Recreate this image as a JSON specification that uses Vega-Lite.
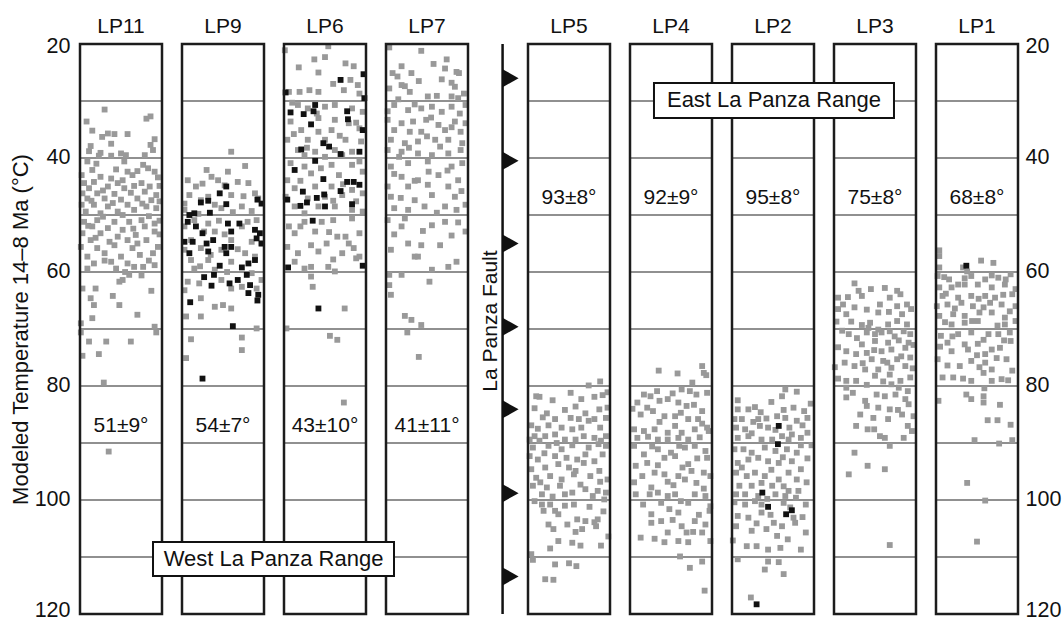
{
"$schema":"https://vega.github.io/schema/vega-lite/v6.json",
"width":937,"height":570,
"autosize":{"type":"none"},
"padding":{"left":80,"top":44,"right":46,"bottom":7},
"background":"white",
"config":{"view":{"stroke":null},"font":"Liberation Sans",
 "axis":{"domain":false,"ticks":false,"grid":false,"labelFontSize":21.5,"labelColor":"#111","labelFont":"Liberation Sans","labelFlush":false,"labelOverlap":false,"titleFontSize":22,"titleFontWeight":"normal","titleColor":"#111","titleFont":"Liberation Sans"},
 "axisX":{"labelAngle":0,"labelFontSize":21,"labelPadding":8},
 "axisY":{"labelOffset":-1,"labelFlush":true,"labelFlushOffset":8}},
"datasets":{
"panels":[
{"p":"LP11","v":"51±9°","g":[30,40,50,60,70,80,90,100,110]},
{"p":"LP9","v":"54±7°","g":[30,40,50,60,70,80,90,100,110]},
{"p":"LP6","v":"43±10°","g":[30,40,50,60,70,80,90,100,110]},
{"p":"LP7","v":"41±11°","g":[30,40,50,60,70,80,90,100,110]},
{"p":"LP5","v":"93±8°","g":[30,40,50,60,70,80,90,100,110]},
{"p":"LP4","v":"92±9°","g":[30,40,50,60,70,80,90,100,110]},
{"p":"LP2","v":"95±8°","g":[30,40,50,60,70,80,90,100,110]},
{"p":"LP3","v":"75±8°","g":[30,40,50,60,70,80,90,100,110]},
{"p":"LP1","v":"68±8°","g":[30,40,50,60,70,80,90,100,110]}
],
"thrusts":[{"t":26.0},{"t":40.5},{"t":55.0},{"t":69.6},{"t":84.1},{"t":98.8},{"t":113.4}],
"pts":[
{"p":"LP11","j":30,"t":31.5},{"p":"LP11","j":8,"t":33.6},{"p":"LP11","j":81,"t":33.1},{"p":"LP11","j":86,"t":32.7},{"p":"LP11","j":15,"t":35.2},{"p":"LP11","j":34,"t":35.7},{"p":"LP11","j":42,"t":35.8},{"p":"LP11","j":58,"t":35.8},{"p":"LP11","j":27,"t":36.3},{"p":"LP11","j":91,"t":36.7},{"p":"LP11","j":38,"t":37.5},{"p":"LP11","j":13,"t":37.9},{"p":"LP11","j":86,"t":37.7},{"p":"LP11","j":11,"t":38.8},{"p":"LP11","j":25,"t":39.1},{"p":"LP11","j":50,"t":39.2},{"p":"LP11","j":56,"t":39.5},{"p":"LP11","j":89,"t":38.6},{"p":"LP11","j":79,"t":39.5},{"p":"LP11","j":23,"t":39.6},{"p":"LP11","j":38,"t":39.6},
{"p":"LP11","j":9,"t":40.6},{"p":"LP11","j":77,"t":41.2},{"p":"LP11","j":83,"t":41.8},{"p":"LP11","j":15,"t":42.1},{"p":"LP11","j":54,"t":40.6},{"p":"LP11","j":58,"t":42.4},{"p":"LP11","j":91,"t":42.4},{"p":"LP11","j":25,"t":43.3},{"p":"LP11","j":38,"t":43.6},{"p":"LP11","j":64,"t":43.0},{"p":"LP11","j":95,"t":43.4},{"p":"LP11","j":5,"t":44.4},{"p":"LP11","j":17,"t":44.2},{"p":"LP11","j":46,"t":44.4},{"p":"LP11","j":75,"t":44.4},{"p":"LP11","j":85,"t":45.0},{"p":"LP11","j":34,"t":45.0},{"p":"LP11","j":11,"t":45.3},{"p":"LP11","j":54,"t":45.3},{"p":"LP11","j":3,"t":46.2},{"p":"LP11","j":21,"t":46.2},{"p":"LP11","j":42,"t":46.3},{"p":"LP11","j":62,"t":46.1},{"p":"LP11","j":79,"t":45.9},{"p":"LP11","j":93,"t":46.5},{"p":"LP11","j":9,"t":47.1},{"p":"LP11","j":30,"t":47.1},{"p":"LP11","j":50,"t":47.3},{"p":"LP11","j":70,"t":47.1},{"p":"LP11","j":87,"t":47.4},{"p":"LP11","j":2,"t":48.2},{"p":"LP11","j":17,"t":48.2},{"p":"LP11","j":34,"t":48.5},{"p":"LP11","j":58,"t":48.2},{"p":"LP11","j":81,"t":48.5},{"p":"LP11","j":93,"t":48.8},{"p":"LP11","j":7,"t":49.4},{"p":"LP11","j":46,"t":49.4},{"p":"LP11","j":66,"t":49.1},{"p":"LP11","j":25,"t":49.7},
{"p":"LP11","j":5,"t":51.2},{"p":"LP11","j":21,"t":50.9},{"p":"LP11","j":42,"t":51.2},{"p":"LP11","j":60,"t":51.2},{"p":"LP11","j":75,"t":50.9},{"p":"LP11","j":91,"t":51.5},{"p":"LP11","j":15,"t":52.0},{"p":"LP11","j":34,"t":52.3},{"p":"LP11","j":52,"t":52.6},{"p":"LP11","j":79,"t":52.0},{"p":"LP11","j":3,"t":53.2},{"p":"LP11","j":25,"t":53.2},{"p":"LP11","j":46,"t":53.8},{"p":"LP11","j":68,"t":53.5},{"p":"LP11","j":91,"t":52.9},{"p":"LP11","j":13,"t":54.4},{"p":"LP11","j":36,"t":54.7},{"p":"LP11","j":58,"t":54.4},{"p":"LP11","j":81,"t":54.4},{"p":"LP11","j":1,"t":55.6},{"p":"LP11","j":21,"t":55.8},{"p":"LP11","j":42,"t":55.3},{"p":"LP11","j":64,"t":55.8},{"p":"LP11","j":95,"t":55.6},{"p":"LP11","j":9,"t":57.3},{"p":"LP11","j":30,"t":56.7},{"p":"LP11","j":50,"t":57.3},{"p":"LP11","j":73,"t":57.0},{"p":"LP11","j":89,"t":56.7},{"p":"LP11","j":17,"t":58.5},{"p":"LP11","j":38,"t":58.2},{"p":"LP11","j":58,"t":58.5},{"p":"LP11","j":77,"t":59.1},{"p":"LP11","j":9,"t":59.4},{"p":"LP11","j":44,"t":59.4},{"p":"LP11","j":66,"t":59.1},{"p":"LP11","j":91,"t":58.8},
{"p":"LP11","j":52,"t":61.4},{"p":"LP11","j":60,"t":60.5},{"p":"LP11","j":75,"t":60.6},{"p":"LP11","j":3,"t":62.9},{"p":"LP11","j":19,"t":62.9},{"p":"LP11","j":48,"t":61.7},{"p":"LP11","j":87,"t":63.3},{"p":"LP11","j":13,"t":64.6},{"p":"LP11","j":40,"t":64.2},{"p":"LP11","j":17,"t":65.8},{"p":"LP11","j":48,"t":65.8},{"p":"LP11","j":70,"t":67.5},{"p":"LP11","j":15,"t":68.1},{"p":"LP11","j":1,"t":69.0},{"p":"LP11","j":91,"t":69.6},{"p":"LP11","j":93,"t":70.6},{"p":"LP11","j":1,"t":70.6},{"p":"LP11","j":11,"t":72.2},{"p":"LP11","j":32,"t":72.2},{"p":"LP11","j":62,"t":72.2},{"p":"LP11","j":23,"t":74.4},{"p":"LP11","j":3,"t":74.7},{"p":"LP11","j":29,"t":79.4},{"p":"LP11","j":35,"t":91.5},
{"p":"LP11","j":20,"t":41.0},{"p":"LP11","j":44,"t":42.0},{"p":"LP11","j":70,"t":42.3},{"p":"LP11","j":2,"t":43.0},{"p":"LP11","j":52,"t":43.9},{"p":"LP11","j":97,"t":44.9},{"p":"LP11","j":28,"t":45.7},{"p":"LP11","j":66,"t":44.9},{"p":"LP11","j":14,"t":47.5},{"p":"LP11","j":40,"t":47.9},{"p":"LP11","j":76,"t":48.0},{"p":"LP11","j":97,"t":47.6},{"p":"LP11","j":28,"t":50.3},{"p":"LP11","j":52,"t":50.0},{"p":"LP11","j":84,"t":50.2},{"p":"LP11","j":10,"t":51.9},{"p":"LP11","j":65,"t":52.4},{"p":"LP11","j":97,"t":53.4},{"p":"LP11","j":19,"t":54.0},{"p":"LP11","j":70,"t":55.0},{"p":"LP11","j":30,"t":58.0},{"p":"LP11","j":84,"t":58.0},{"p":"LP11","j":55,"t":60.0},{"p":"LP11","j":97,"t":51.0},
{"p":"LP9","j":60,"t":38.9},{"p":"LP9","j":30,"t":42.1},{"p":"LP9","j":56,"t":42.4},{"p":"LP9","j":77,"t":41.4},{"p":"LP9","j":36,"t":43.3},{"p":"LP9","j":7,"t":43.9},{"p":"LP9","j":17,"t":45.0},{"p":"LP9","j":44,"t":43.9},{"p":"LP9","j":68,"t":44.2},{"p":"LP9","j":81,"t":44.4},{"p":"LP9","j":9,"t":46.5},{"p":"LP9","j":32,"t":46.8},{"p":"LP9","j":60,"t":46.5},{"p":"LP9","j":89,"t":46.2},{"p":"LP9","j":3,"t":48.0},{"p":"LP9","j":23,"t":47.4},{"p":"LP9","j":40,"t":48.2},{"p":"LP9","j":73,"t":48.5},{"p":"LP9","j":93,"t":47.1},{"p":"LP9","j":3,"t":49.1},{"p":"LP9","j":48,"t":48.8},{"p":"LP9","j":15,"t":50.9},{"p":"LP9","j":32,"t":51.5},{"p":"LP9","j":91,"t":50.9},{"p":"LP9","j":3,"t":52.0},{"p":"LP9","j":73,"t":52.0},{"p":"LP9","j":40,"t":52.9},{"p":"LP9","j":11,"t":54.4},{"p":"LP9","j":60,"t":54.4},{"p":"LP9","j":97,"t":55.0},{"p":"LP9","j":3,"t":56.1},{"p":"LP9","j":23,"t":55.8},{"p":"LP9","j":48,"t":56.1},{"p":"LP9","j":77,"t":56.7},{"p":"LP9","j":11,"t":57.9},{"p":"LP9","j":32,"t":57.9},{"p":"LP9","j":60,"t":58.2},{"p":"LP9","j":89,"t":57.3},{"p":"LP9","j":40,"t":59.6},{"p":"LP9","j":15,"t":59.4},{"p":"LP9","j":7,"t":61.7},{"p":"LP9","j":21,"t":62.0},{"p":"LP9","j":48,"t":61.4},{"p":"LP9","j":60,"t":62.9},{"p":"LP9","j":97,"t":61.4},{"p":"LP9","j":3,"t":63.2},{"p":"LP9","j":23,"t":64.6},{"p":"LP9","j":40,"t":66.1},{"p":"LP9","j":50,"t":65.8},{"p":"LP9","j":60,"t":66.4},{"p":"LP9","j":73,"t":62.6},{"p":"LP9","j":91,"t":62.9},{"p":"LP9","j":5,"t":67.8},{"p":"LP9","j":23,"t":67.8},{"p":"LP9","j":11,"t":71.8},{"p":"LP9","j":73,"t":71.5},{"p":"LP9","j":73,"t":73.7},{"p":"LP9","j":5,"t":75.1},{"p":"LP9","j":91,"t":69.9},
{"p":"LP9","j":25,"t":44.5},{"p":"LP9","j":52,"t":44.8},{"p":"LP9","j":75,"t":46.7},{"p":"LP9","j":20,"t":49.8},{"p":"LP9","j":62,"t":49.5},{"p":"LP9","j":85,"t":49.3},{"p":"LP9","j":45,"t":51.0},{"p":"LP9","j":80,"t":51.2},{"p":"LP9","j":27,"t":52.9},{"p":"LP9","j":52,"t":53.4},{"p":"LP9","j":85,"t":54.7},{"p":"LP9","j":35,"t":57.0},{"p":"LP9","j":68,"t":56.0},{"p":"LP9","j":22,"t":59.0},{"p":"LP9","j":55,"t":60.0},{"p":"LP9","j":85,"t":60.2},
{"p":"LP9","j":54,"t":45.0,"k":1},{"p":"LP9","j":46,"t":46.2,"k":1},{"p":"LP9","j":23,"t":47.8,"k":1},{"p":"LP9","j":32,"t":47.5,"k":1},{"p":"LP9","j":54,"t":48.1,"k":1},{"p":"LP9","j":92,"t":47.3,"k":1},{"p":"LP9","j":97,"t":48.0,"k":1},{"p":"LP9","j":9,"t":50.0,"k":1},{"p":"LP9","j":15,"t":49.7,"k":1},{"p":"LP9","j":34,"t":49.6,"k":1},{"p":"LP9","j":7,"t":51.2,"k":1},{"p":"LP9","j":17,"t":52.0,"k":1},{"p":"LP9","j":25,"t":53.2,"k":1},{"p":"LP9","j":56,"t":51.5,"k":1},{"p":"LP9","j":70,"t":51.5,"k":1},{"p":"LP9","j":60,"t":52.9,"k":1},{"p":"LP9","j":89,"t":52.6,"k":1},{"p":"LP9","j":95,"t":53.2,"k":1},{"p":"LP9","j":3,"t":54.7,"k":1},{"p":"LP9","j":13,"t":54.7,"k":1},{"p":"LP9","j":30,"t":55.0,"k":1},{"p":"LP9","j":38,"t":54.4,"k":1},{"p":"LP9","j":52,"t":55.6,"k":1},{"p":"LP9","j":60,"t":55.6,"k":1},{"p":"LP9","j":91,"t":54.1,"k":1},{"p":"LP9","j":97,"t":55.0,"k":1},{"p":"LP9","j":9,"t":56.7,"k":1},{"p":"LP9","j":32,"t":56.4,"k":1},{"p":"LP9","j":54,"t":56.7,"k":1},{"p":"LP9","j":81,"t":58.5,"k":1},{"p":"LP9","j":89,"t":57.9,"k":1},{"p":"LP9","j":46,"t":58.9,"k":1},{"p":"LP9","j":73,"t":59.2,"k":1},{"p":"LP9","j":27,"t":60.9,"k":1},{"p":"LP9","j":39,"t":60.5,"k":1},{"p":"LP9","j":58,"t":62.0,"k":1},{"p":"LP9","j":68,"t":61.4,"k":1},{"p":"LP9","j":36,"t":62.4,"k":1},{"p":"LP9","j":79,"t":60.5,"k":1},{"p":"LP9","j":83,"t":62.3,"k":1},{"p":"LP9","j":10,"t":65.3,"k":1},{"p":"LP9","j":81,"t":63.7,"k":1},{"p":"LP9","j":93,"t":64.0,"k":1},{"p":"LP9","j":92,"t":65.0,"k":1},{"p":"LP9","j":62,"t":69.5,"k":1},{"p":"LP9","j":25,"t":78.7,"k":1},
{"p":"LP6","j":1,"t":21.1},{"p":"LP6","j":54,"t":20.4},{"p":"LP6","j":37,"t":22.7},{"p":"LP6","j":50,"t":22.3},{"p":"LP6","j":18,"t":24.1},{"p":"LP6","j":42,"t":25.0},{"p":"LP6","j":75,"t":23.4},{"p":"LP6","j":85,"t":23.9},{"p":"LP6","j":81,"t":26.3},{"p":"LP6","j":90,"t":27.2},{"p":"LP6","j":19,"t":28.4},{"p":"LP6","j":31,"t":28.1},{"p":"LP6","j":42,"t":28.4},{"p":"LP6","j":73,"t":28.1},{"p":"LP6","j":92,"t":28.7},{"p":"LP6","j":6,"t":28.4},
{"p":"LP6","j":17,"t":30.7},{"p":"LP6","j":29,"t":31.3},{"p":"LP6","j":50,"t":31.0},{"p":"LP6","j":62,"t":30.7},{"p":"LP6","j":83,"t":31.3},{"p":"LP6","j":96,"t":31.9},{"p":"LP6","j":8,"t":33.6},{"p":"LP6","j":42,"t":33.0},{"p":"LP6","j":62,"t":33.3},{"p":"LP6","j":79,"t":33.9},{"p":"LP6","j":21,"t":35.1},{"p":"LP6","j":42,"t":35.4},{"p":"LP6","j":58,"t":35.1},{"p":"LP6","j":92,"t":34.8},{"p":"LP6","j":4,"t":36.8},{"p":"LP6","j":29,"t":36.8},{"p":"LP6","j":50,"t":36.8},{"p":"LP6","j":75,"t":36.8},{"p":"LP6","j":94,"t":37.1},{"p":"LP6","j":17,"t":38.6},{"p":"LP6","j":38,"t":38.9},{"p":"LP6","j":62,"t":38.6},{"p":"LP6","j":83,"t":38.9},{"p":"LP6","j":25,"t":39.5},{"p":"LP6","j":71,"t":39.5},
{"p":"LP6","j":8,"t":40.9},{"p":"LP6","j":25,"t":41.5},{"p":"LP6","j":58,"t":41.2},{"p":"LP6","j":83,"t":41.2},{"p":"LP6","j":4,"t":43.9},{"p":"LP6","j":33,"t":42.7},{"p":"LP6","j":67,"t":43.0},{"p":"LP6","j":96,"t":42.4},{"p":"LP6","j":13,"t":45.3},{"p":"LP6","j":38,"t":45.0},{"p":"LP6","j":58,"t":45.0},{"p":"LP6","j":83,"t":45.6},{"p":"LP6","j":2,"t":46.8},{"p":"LP6","j":29,"t":47.1},{"p":"LP6","j":50,"t":46.8},{"p":"LP6","j":71,"t":46.5},{"p":"LP6","j":96,"t":46.2},{"p":"LP6","j":13,"t":48.5},{"p":"LP6","j":42,"t":48.5},{"p":"LP6","j":62,"t":48.5},{"p":"LP6","j":83,"t":49.1},{"p":"LP6","j":96,"t":49.4},{"p":"LP6","j":25,"t":49.7},
{"p":"LP6","j":6,"t":52.0},{"p":"LP6","j":25,"t":51.2},{"p":"LP6","j":46,"t":51.2},{"p":"LP6","j":60,"t":50.9},{"p":"LP6","j":83,"t":50.6},{"p":"LP6","j":13,"t":53.2},{"p":"LP6","j":38,"t":52.9},{"p":"LP6","j":65,"t":53.8},{"p":"LP6","j":75,"t":53.8},{"p":"LP6","j":92,"t":53.2},{"p":"LP6","j":4,"t":55.6},{"p":"LP6","j":33,"t":55.3},{"p":"LP6","j":52,"t":55.0},{"p":"LP6","j":79,"t":55.0},{"p":"LP6","j":17,"t":56.7},{"p":"LP6","j":42,"t":56.4},{"p":"LP6","j":71,"t":56.7},{"p":"LP6","j":92,"t":57.3},{"p":"LP6","j":13,"t":58.2},{"p":"LP6","j":33,"t":59.1},{"p":"LP6","j":54,"t":59.1},{"p":"LP6","j":88,"t":57.6},{"p":"LP6","j":25,"t":59.4},{"p":"LP6","j":62,"t":59.9},
{"p":"LP6","j":33,"t":60.8},{"p":"LP6","j":35,"t":62.6},{"p":"LP6","j":74,"t":66.4},{"p":"LP6","j":3,"t":69.9},{"p":"LP6","j":56,"t":71.2},{"p":"LP6","j":65,"t":71.9},{"p":"LP6","j":73,"t":82.9},
{"p":"LP6","j":60,"t":27.0},{"p":"LP6","j":10,"t":30.3},{"p":"LP6","j":40,"t":32.2},{"p":"LP6","j":88,"t":33.8},{"p":"LP6","j":12,"t":35.8},{"p":"LP6","j":68,"t":36.1},{"p":"LP6","j":28,"t":38.2},{"p":"LP6","j":50,"t":39.8},{"p":"LP6","j":92,"t":40.6},{"p":"LP6","j":45,"t":41.8},{"p":"LP6","j":20,"t":44.0},{"p":"LP6","j":72,"t":44.6},{"p":"LP6","j":88,"t":47.6},{"p":"LP6","j":60,"t":47.5},{"p":"LP6","j":20,"t":52.0},{"p":"LP6","j":55,"t":53.0},{"p":"LP6","j":85,"t":55.8},{"p":"LP6","j":60,"t":57.8},
{"p":"LP6","j":97,"t":25.3,"k":1},{"p":"LP6","j":69,"t":26.3,"k":1},{"p":"LP6","j":2,"t":28.5,"k":1},{"p":"LP6","j":98,"t":29.5,"k":1},{"p":"LP6","j":8,"t":32.0,"k":1},{"p":"LP6","j":24,"t":32.3,"k":1},{"p":"LP6","j":38,"t":30.7,"k":1},{"p":"LP6","j":36,"t":31.8,"k":1},{"p":"LP6","j":77,"t":31.8,"k":1},{"p":"LP6","j":78,"t":33.2,"k":1},{"p":"LP6","j":33,"t":34.1,"k":1},{"p":"LP6","j":96,"t":35.1,"k":1},{"p":"LP6","j":48,"t":37.4,"k":1},{"p":"LP6","j":55,"t":38.0,"k":1},{"p":"LP6","j":21,"t":38.5,"k":1},{"p":"LP6","j":69,"t":39.3,"k":1},{"p":"LP6","j":92,"t":38.9,"k":1},{"p":"LP6","j":38,"t":40.5,"k":1},{"p":"LP6","j":13,"t":42.1,"k":1},{"p":"LP6","j":48,"t":43.7,"k":1},{"p":"LP6","j":77,"t":44.2,"k":1},{"p":"LP6","j":85,"t":44.2,"k":1},{"p":"LP6","j":92,"t":44.7,"k":1},{"p":"LP6","j":23,"t":45.9,"k":1},{"p":"LP6","j":49,"t":46.4,"k":1},{"p":"LP6","j":40,"t":47.0,"k":1},{"p":"LP6","j":69,"t":45.8,"k":1},{"p":"LP6","j":4,"t":47.3,"k":1},{"p":"LP6","j":20,"t":48.4,"k":1},{"p":"LP6","j":28,"t":47.8,"k":1},{"p":"LP6","j":50,"t":48.5,"k":1},{"p":"LP6","j":83,"t":48.1,"k":1},{"p":"LP6","j":35,"t":51.0,"k":1},{"p":"LP6","j":5,"t":59.2,"k":1},{"p":"LP6","j":96,"t":58.9,"k":1},{"p":"LP6","j":42,"t":66.4,"k":1},
{"p":"LP7","j":4,"t":20.6},{"p":"LP7","j":43,"t":21.2},{"p":"LP7","j":74,"t":22.7},{"p":"LP7","j":19,"t":23.9},{"p":"LP7","j":31,"t":25.1},{"p":"LP7","j":8,"t":25.1},{"p":"LP7","j":14,"t":25.7},{"p":"LP7","j":86,"t":24.9},{"p":"LP7","j":89,"t":25.1},{"p":"LP7","j":72,"t":24.3},{"p":"LP7","j":68,"t":26.2},{"p":"LP7","j":19,"t":27.2},{"p":"LP7","j":23,"t":27.4},{"p":"LP7","j":4,"t":27.8},{"p":"LP7","j":29,"t":28.4},{"p":"LP7","j":84,"t":27.5},{"p":"LP7","j":95,"t":28.7},{"p":"LP7","j":51,"t":29.2},{"p":"LP7","j":62,"t":29.1},{"p":"LP7","j":80,"t":29.2},{"p":"LP7","j":88,"t":29.5},
{"p":"LP7","j":10,"t":30.7},{"p":"LP7","j":27,"t":31.6},{"p":"LP7","j":43,"t":31.3},{"p":"LP7","j":56,"t":31.0},{"p":"LP7","j":68,"t":31.9},{"p":"LP7","j":80,"t":31.0},{"p":"LP7","j":97,"t":30.7},{"p":"LP7","j":2,"t":33.3},{"p":"LP7","j":19,"t":33.9},{"p":"LP7","j":33,"t":33.6},{"p":"LP7","j":49,"t":33.3},{"p":"LP7","j":64,"t":34.2},{"p":"LP7","j":84,"t":33.6},{"p":"LP7","j":97,"t":33.9},{"p":"LP7","j":10,"t":35.1},{"p":"LP7","j":29,"t":35.4},{"p":"LP7","j":43,"t":35.4},{"p":"LP7","j":72,"t":35.1},{"p":"LP7","j":91,"t":35.4},{"p":"LP7","j":6,"t":36.8},{"p":"LP7","j":23,"t":37.4},{"p":"LP7","j":39,"t":37.1},{"p":"LP7","j":60,"t":36.8},{"p":"LP7","j":76,"t":36.8},{"p":"LP7","j":93,"t":37.4},{"p":"LP7","j":2,"t":38.6},{"p":"LP7","j":19,"t":38.9},{"p":"LP7","j":39,"t":39.2},{"p":"LP7","j":56,"t":39.5},{"p":"LP7","j":76,"t":39.2},{"p":"LP7","j":91,"t":38.6},{"p":"LP7","j":16,"t":39.8},
{"p":"LP7","j":6,"t":41.5},{"p":"LP7","j":27,"t":40.9},{"p":"LP7","j":51,"t":40.6},{"p":"LP7","j":80,"t":41.5},{"p":"LP7","j":93,"t":40.9},{"p":"LP7","j":19,"t":43.3},{"p":"LP7","j":39,"t":43.9},{"p":"LP7","j":64,"t":43.0},{"p":"LP7","j":88,"t":43.9},{"p":"LP7","j":2,"t":45.0},{"p":"LP7","j":27,"t":45.0},{"p":"LP7","j":51,"t":44.7},{"p":"LP7","j":76,"t":45.0},{"p":"LP7","j":6,"t":46.8},{"p":"LP7","j":35,"t":47.4},{"p":"LP7","j":56,"t":46.5},{"p":"LP7","j":84,"t":46.8},{"p":"LP7","j":97,"t":48.2},{"p":"LP7","j":10,"t":48.8},{"p":"LP7","j":27,"t":49.1},{"p":"LP7","j":47,"t":48.5},{"p":"LP7","j":72,"t":48.5},{"p":"LP7","j":86,"t":49.1},
{"p":"LP7","j":2,"t":50.9},{"p":"LP7","j":23,"t":50.6},{"p":"LP7","j":56,"t":51.8},{"p":"LP7","j":72,"t":51.2},{"p":"LP7","j":88,"t":51.3},{"p":"LP7","j":19,"t":52.0},{"p":"LP7","j":97,"t":52.9},{"p":"LP7","j":27,"t":55.0},{"p":"LP7","j":43,"t":55.3},{"p":"LP7","j":66,"t":55.3},{"p":"LP7","j":6,"t":56.1},{"p":"LP7","j":35,"t":57.3},{"p":"LP7","j":39,"t":57.3},{"p":"LP7","j":86,"t":58.2},{"p":"LP7","j":76,"t":59.1},
{"p":"LP7","j":4,"t":60.5},{"p":"LP7","j":19,"t":60.5},{"p":"LP7","j":56,"t":59.6},{"p":"LP7","j":53,"t":61.7},{"p":"LP7","j":4,"t":62.3},{"p":"LP7","j":6,"t":64.0},{"p":"LP7","j":23,"t":67.7},{"p":"LP7","j":31,"t":68.4},{"p":"LP7","j":43,"t":69.3},{"p":"LP7","j":26,"t":70.6},{"p":"LP7","j":40,"t":74.9},
{"p":"LP7","j":58,"t":23.5},{"p":"LP7","j":40,"t":26.5},{"p":"LP7","j":80,"t":26.8},{"p":"LP7","j":15,"t":29.7},{"p":"LP7","j":35,"t":30.6},{"p":"LP7","j":90,"t":32.2},{"p":"LP7","j":55,"t":32.9},{"p":"LP7","j":2,"t":31.8},{"p":"LP7","j":80,"t":34.6},{"p":"LP7","j":50,"t":36.2},{"p":"LP7","j":28,"t":38.2},{"p":"LP7","j":66,"t":38.0},{"p":"LP7","j":10,"t":42.8},{"p":"LP7","j":52,"t":42.4},{"p":"LP7","j":75,"t":42.2},{"p":"LP7","j":35,"t":44.0},{"p":"LP7","j":92,"t":45.8},{"p":"LP7","j":18,"t":47.0},{"p":"LP7","j":62,"t":49.6},{"p":"LP7","j":45,"t":52.8},{"p":"LP7","j":80,"t":53.6},{"p":"LP7","j":10,"t":53.4},
{"p":"LP5","j":74,"t":79.9},{"p":"LP5","j":88,"t":79.2},{"p":"LP5","j":52,"t":81.2},{"p":"LP5","j":10,"t":81.8},{"p":"LP5","j":14,"t":81.9},{"p":"LP5","j":81,"t":81.9},{"p":"LP5","j":91,"t":81.6},{"p":"LP5","j":97,"t":81.1},{"p":"LP5","j":8,"t":83.9},{"p":"LP5","j":23,"t":84.8},{"p":"LP5","j":45,"t":84.2},{"p":"LP5","j":58,"t":83.6},{"p":"LP5","j":70,"t":84.8},{"p":"LP5","j":87,"t":84.1},{"p":"LP5","j":97,"t":83.8},{"p":"LP5","j":33,"t":85.8},{"p":"LP5","j":62,"t":85.8},{"p":"LP5","j":74,"t":86.1},{"p":"LP5","j":81,"t":85.8},{"p":"LP5","j":95,"t":85.6},{"p":"LP5","j":4,"t":86.9},{"p":"LP5","j":12,"t":87.5},{"p":"LP5","j":25,"t":86.9},{"p":"LP5","j":41,"t":87.3},{"p":"LP5","j":54,"t":87.6},{"p":"LP5","j":8,"t":88.8},{"p":"LP5","j":21,"t":88.8},{"p":"LP5","j":33,"t":88.5},{"p":"LP5","j":45,"t":89.4},{"p":"LP5","j":68,"t":88.8},{"p":"LP5","j":81,"t":89.1},{"p":"LP5","j":95,"t":88.8},{"p":"LP5","j":2,"t":89.4},{"p":"LP5","j":14,"t":89.6},{"p":"LP5","j":58,"t":89.4},{"p":"LP5","j":89,"t":89.6},
{"p":"LP5","j":6,"t":90.8},{"p":"LP5","j":25,"t":90.5},{"p":"LP5","j":41,"t":91.1},{"p":"LP5","j":54,"t":90.4},{"p":"LP5","j":74,"t":90.8},{"p":"LP5","j":95,"t":90.5},{"p":"LP5","j":12,"t":92.9},{"p":"LP5","j":33,"t":92.3},{"p":"LP5","j":60,"t":92.9},{"p":"LP5","j":81,"t":93.2},{"p":"LP5","j":91,"t":92.0},{"p":"LP5","j":4,"t":94.6},{"p":"LP5","j":21,"t":94.3},{"p":"LP5","j":37,"t":93.7},{"p":"LP5","j":50,"t":94.3},{"p":"LP5","j":68,"t":93.5},{"p":"LP5","j":87,"t":94.9},{"p":"LP5","j":10,"t":96.1},{"p":"LP5","j":27,"t":95.8},{"p":"LP5","j":41,"t":96.4},{"p":"LP5","j":56,"t":95.5},{"p":"LP5","j":76,"t":95.8},{"p":"LP5","j":97,"t":96.4},{"p":"LP5","j":6,"t":97.5},{"p":"LP5","j":23,"t":97.8},{"p":"LP5","j":39,"t":97.5},{"p":"LP5","j":54,"t":98.7},{"p":"LP5","j":70,"t":98.1},{"p":"LP5","j":85,"t":98.4},{"p":"LP5","j":95,"t":98.7},{"p":"LP5","j":17,"t":99.0},{"p":"LP5","j":45,"t":99.0},{"p":"LP5","j":79,"t":99.3},{"p":"LP5","j":93,"t":99.9},
{"p":"LP5","j":17,"t":100.8},{"p":"LP5","j":27,"t":100.8},{"p":"LP5","j":33,"t":101.9},{"p":"LP5","j":56,"t":100.8},{"p":"LP5","j":19,"t":101.9},{"p":"LP5","j":37,"t":102.5},{"p":"LP5","j":60,"t":103.4},{"p":"LP5","j":70,"t":103.7},{"p":"LP5","j":81,"t":103.9},{"p":"LP5","j":85,"t":103.4},{"p":"LP5","j":25,"t":104.3},{"p":"LP5","j":31,"t":105.1},{"p":"LP5","j":66,"t":105.1},{"p":"LP5","j":58,"t":105.6},{"p":"LP5","j":83,"t":104.6},{"p":"LP5","j":37,"t":107.2},{"p":"LP5","j":54,"t":107.5},{"p":"LP5","j":64,"t":108.0},{"p":"LP5","j":89,"t":108.0},{"p":"LP5","j":27,"t":108.5},{"p":"LP5","j":98,"t":106.4},{"p":"LP5","j":4,"t":109.5},{"p":"LP5","j":6,"t":110.5},{"p":"LP5","j":33,"t":111.3},{"p":"LP5","j":50,"t":111.1},{"p":"LP5","j":59,"t":111.6},{"p":"LP5","j":21,"t":113.9},{"p":"LP5","j":31,"t":114.0},
{"p":"LP5","j":30,"t":82.5},{"p":"LP5","j":65,"t":82.3},{"p":"LP5","j":18,"t":85.5},{"p":"LP5","j":52,"t":85.6},{"p":"LP5","j":88,"t":87.3},{"p":"LP5","j":65,"t":87.3},{"p":"LP5","j":35,"t":90.0},{"p":"LP5","j":86,"t":90.2},{"p":"LP5","j":20,"t":91.8},{"p":"LP5","j":47,"t":92.6},{"p":"LP5","j":70,"t":92.0},{"p":"LP5","j":2,"t":92.3},{"p":"LP5","j":58,"t":94.9},{"p":"LP5","j":15,"t":96.9},{"p":"LP5","j":88,"t":96.8},{"p":"LP5","j":64,"t":97.3},{"p":"LP5","j":30,"t":99.4},{"p":"LP5","j":8,"t":100.2},{"p":"LP5","j":45,"t":101.0},{"p":"LP5","j":92,"t":102.0},{"p":"LP5","j":75,"t":101.2},{"p":"LP5","j":48,"t":104.3},
{"p":"LP4","j":35,"t":77.3},{"p":"LP4","j":58,"t":77.8},{"p":"LP4","j":88,"t":76.5},{"p":"LP4","j":90,"t":77.7},{"p":"LP4","j":93,"t":78.1},{"p":"LP4","j":76,"t":79.4},{"p":"LP4","j":17,"t":81.5},{"p":"LP4","j":33,"t":80.9},{"p":"LP4","j":63,"t":80.6},{"p":"LP4","j":73,"t":80.9},{"p":"LP4","j":81,"t":81.5},{"p":"LP4","j":94,"t":81.2},{"p":"LP4","j":9,"t":82.9},{"p":"LP4","j":21,"t":83.8},{"p":"LP4","j":36,"t":82.6},{"p":"LP4","j":46,"t":82.3},{"p":"LP4","j":59,"t":82.9},{"p":"LP4","j":69,"t":83.5},{"p":"LP4","j":88,"t":84.4},{"p":"LP4","j":13,"t":85.0},{"p":"LP4","j":28,"t":84.4},{"p":"LP4","j":42,"t":85.3},{"p":"LP4","j":55,"t":85.3},{"p":"LP4","j":71,"t":85.8},{"p":"LP4","j":83,"t":85.8},{"p":"LP4","j":94,"t":87.3},{"p":"LP4","j":5,"t":87.6},{"p":"LP4","j":17,"t":87.9},{"p":"LP4","j":30,"t":87.6},{"p":"LP4","j":46,"t":88.2},{"p":"LP4","j":63,"t":88.2},{"p":"LP4","j":79,"t":87.6},{"p":"LP4","j":96,"t":87.9},{"p":"LP4","j":9,"t":89.1},{"p":"LP4","j":34,"t":89.4},{"p":"LP4","j":46,"t":89.4},{"p":"LP4","j":59,"t":89.1},{"p":"LP4","j":71,"t":89.4},
{"p":"LP4","j":5,"t":90.5},{"p":"LP4","j":17,"t":92.0},{"p":"LP4","j":34,"t":91.1},{"p":"LP4","j":50,"t":91.7},{"p":"LP4","j":67,"t":90.8},{"p":"LP4","j":79,"t":90.5},{"p":"LP4","j":92,"t":91.4},{"p":"LP4","j":7,"t":94.0},{"p":"LP4","j":21,"t":93.5},{"p":"LP4","j":42,"t":92.6},{"p":"LP4","j":55,"t":92.3},{"p":"LP4","j":71,"t":93.7},{"p":"LP4","j":94,"t":92.6},{"p":"LP4","j":15,"t":95.8},{"p":"LP4","j":30,"t":95.2},{"p":"LP4","j":42,"t":95.5},{"p":"LP4","j":59,"t":95.8},{"p":"LP4","j":75,"t":94.9},{"p":"LP4","j":90,"t":95.2},{"p":"LP4","j":98,"t":95.8},{"p":"LP4","j":26,"t":97.8},{"p":"LP4","j":46,"t":96.8},{"p":"LP4","j":67,"t":96.4},{"p":"LP4","j":81,"t":97.0},{"p":"LP4","j":7,"t":99.0},{"p":"LP4","j":24,"t":99.0},{"p":"LP4","j":34,"t":98.7},{"p":"LP4","j":46,"t":99.3},{"p":"LP4","j":55,"t":99.0},{"p":"LP4","j":79,"t":99.0},{"p":"LP4","j":92,"t":99.3},
{"p":"LP4","j":38,"t":100.5},{"p":"LP4","j":71,"t":100.5},{"p":"LP4","j":98,"t":101.1},{"p":"LP4","j":26,"t":102.5},{"p":"LP4","j":48,"t":101.6},{"p":"LP4","j":59,"t":102.2},{"p":"LP4","j":97,"t":101.9},{"p":"LP4","j":26,"t":104.0},{"p":"LP4","j":38,"t":103.7},{"p":"LP4","j":63,"t":104.6},{"p":"LP4","j":79,"t":103.7},{"p":"LP4","j":92,"t":104.3},{"p":"LP4","j":46,"t":105.7},{"p":"LP4","j":69,"t":105.7},{"p":"LP4","j":77,"t":105.6},{"p":"LP4","j":88,"t":105.7},{"p":"LP4","j":13,"t":106.6},{"p":"LP4","j":30,"t":106.8},{"p":"LP4","j":42,"t":107.4},{"p":"LP4","j":59,"t":107.2},{"p":"LP4","j":71,"t":107.4},{"p":"LP4","j":98,"t":107.2},{"p":"LP4","j":61,"t":109.9},{"p":"LP4","j":73,"t":111.9},{"p":"LP4","j":88,"t":110.8},{"p":"LP4","j":91,"t":115.9},
{"p":"LP4","j":25,"t":81.8},{"p":"LP4","j":52,"t":81.3},{"p":"LP4","j":3,"t":84.0},{"p":"LP4","j":62,"t":84.7},{"p":"LP4","j":78,"t":83.3},{"p":"LP4","j":36,"t":86.3},{"p":"LP4","j":88,"t":86.6},{"p":"LP4","j":22,"t":88.9},{"p":"LP4","j":55,"t":87.0},{"p":"LP4","j":85,"t":89.0},{"p":"LP4","j":27,"t":90.6},{"p":"LP4","j":60,"t":90.5},{"p":"LP4","j":82,"t":92.7},{"p":"LP4","j":34,"t":93.9},{"p":"LP4","j":64,"t":94.3},{"p":"LP4","j":5,"t":96.9},{"p":"LP4","j":53,"t":97.4},{"p":"LP4","j":90,"t":98.0},{"p":"LP4","j":16,"t":100.8},{"p":"LP4","j":62,"t":100.2},{"p":"LP4","j":84,"t":102.6},{"p":"LP4","j":52,"t":103.5},
{"p":"LP2","j":65,"t":80.6},{"p":"LP2","j":79,"t":81.0},{"p":"LP2","j":61,"t":81.8},{"p":"LP2","j":7,"t":82.5},{"p":"LP2","j":7,"t":84.1},{"p":"LP2","j":20,"t":84.1},{"p":"LP2","j":28,"t":83.7},{"p":"LP2","j":63,"t":84.2},{"p":"LP2","j":75,"t":83.8},{"p":"LP2","j":88,"t":84.4},{"p":"LP2","j":92,"t":85.6},{"p":"LP2","j":3,"t":85.8},{"p":"LP2","j":12,"t":85.8},{"p":"LP2","j":32,"t":85.8},{"p":"LP2","j":42,"t":85.7},{"p":"LP2","j":65,"t":85.6},{"p":"LP2","j":79,"t":86.1},{"p":"LP2","j":5,"t":87.3},{"p":"LP2","j":16,"t":87.6},{"p":"LP2","j":24,"t":88.3},{"p":"LP2","j":34,"t":87.0},{"p":"LP2","j":44,"t":87.3},{"p":"LP2","j":53,"t":87.7},{"p":"LP2","j":61,"t":88.8},{"p":"LP2","j":73,"t":88.5},{"p":"LP2","j":86,"t":86.9},{"p":"LP2","j":92,"t":88.2},{"p":"LP2","j":7,"t":89.1},{"p":"LP2","j":20,"t":88.8},{"p":"LP2","j":36,"t":89.4},{"p":"LP2","j":49,"t":89.4},{"p":"LP2","j":69,"t":89.4},{"p":"LP2","j":84,"t":89.1},
{"p":"LP2","j":3,"t":91.1},{"p":"LP2","j":14,"t":91.1},{"p":"LP2","j":24,"t":91.7},{"p":"LP2","j":40,"t":90.8},{"p":"LP2","j":53,"t":91.4},{"p":"LP2","j":67,"t":91.1},{"p":"LP2","j":79,"t":91.7},{"p":"LP2","j":84,"t":90.4},{"p":"LP2","j":7,"t":93.5},{"p":"LP2","j":20,"t":92.9},{"p":"LP2","j":32,"t":92.6},{"p":"LP2","j":44,"t":93.2},{"p":"LP2","j":57,"t":93.5},{"p":"LP2","j":73,"t":93.2},{"p":"LP2","j":84,"t":94.6},{"p":"LP2","j":5,"t":95.2},{"p":"LP2","j":18,"t":95.8},{"p":"LP2","j":28,"t":95.2},{"p":"LP2","j":40,"t":95.8},{"p":"LP2","j":57,"t":96.4},{"p":"LP2","j":69,"t":95.2},{"p":"LP2","j":79,"t":96.4},{"p":"LP2","j":9,"t":97.5},{"p":"LP2","j":24,"t":97.5},{"p":"LP2","j":36,"t":97.0},{"p":"LP2","j":49,"t":97.5},{"p":"LP2","j":69,"t":98.4},{"p":"LP2","j":81,"t":98.4},{"p":"LP2","j":5,"t":99.0},{"p":"LP2","j":16,"t":99.0},{"p":"LP2","j":32,"t":99.3},{"p":"LP2","j":53,"t":99.0},{"p":"LP2","j":65,"t":99.3},
{"p":"LP2","j":3,"t":100.4},{"p":"LP2","j":16,"t":100.8},{"p":"LP2","j":28,"t":100.2},{"p":"LP2","j":36,"t":100.8},{"p":"LP2","j":63,"t":100.5},{"p":"LP2","j":71,"t":101.3},{"p":"LP2","j":90,"t":100.8},{"p":"LP2","j":7,"t":102.8},{"p":"LP2","j":20,"t":103.1},{"p":"LP2","j":36,"t":102.2},{"p":"LP2","j":51,"t":104.0},{"p":"LP2","j":61,"t":104.6},{"p":"LP2","j":75,"t":103.1},{"p":"LP2","j":77,"t":104.0},{"p":"LP2","j":5,"t":104.6},{"p":"LP2","j":24,"t":105.4},{"p":"LP2","j":42,"t":105.1},{"p":"LP2","j":55,"t":106.3},{"p":"LP2","j":90,"t":105.7},{"p":"LP2","j":1,"t":107.1},{"p":"LP2","j":18,"t":108.1},{"p":"LP2","j":30,"t":108.1},{"p":"LP2","j":44,"t":108.7},{"p":"LP2","j":59,"t":108.4},{"p":"LP2","j":84,"t":108.7},
{"p":"LP2","j":7,"t":110.4},{"p":"LP2","j":44,"t":110.8},{"p":"LP2","j":57,"t":110.9},{"p":"LP2","j":40,"t":112.2},{"p":"LP2","j":63,"t":113.0},{"p":"LP2","j":23,"t":117.1},
{"p":"LP2","j":48,"t":82.8},{"p":"LP2","j":35,"t":84.6},{"p":"LP2","j":55,"t":85.3},{"p":"LP2","j":96,"t":83.1},{"p":"LP2","j":26,"t":86.3},{"p":"LP2","j":70,"t":87.3},{"p":"LP2","j":97,"t":90.4},{"p":"LP2","j":62,"t":92.5},{"p":"LP2","j":92,"t":92.7},{"p":"LP2","j":12,"t":94.3},{"p":"LP2","j":48,"t":94.7},{"p":"LP2","j":63,"t":97.6},{"p":"LP2","j":91,"t":96.9},{"p":"LP2","j":43,"t":99.8},{"p":"LP2","j":78,"t":99.6},{"p":"LP2","j":47,"t":102.6},{"p":"LP2","j":86,"t":103.0},{"p":"LP2","j":30,"t":104.1},{"p":"LP2","j":68,"t":106.9},
{"p":"LP2","j":57,"t":87.0,"k":1},{"p":"LP2","j":56,"t":90.2,"k":1},{"p":"LP2","j":37,"t":98.7,"k":1},{"p":"LP2","j":44,"t":101.2,"k":1},{"p":"LP2","j":66,"t":102.5,"k":1},{"p":"LP2","j":73,"t":101.8,"k":1},{"p":"LP2","j":30,"t":118.3,"k":1},
{"p":"LP3","j":25,"t":62.0},{"p":"LP3","j":30,"t":63.3},{"p":"LP3","j":34,"t":64.2},{"p":"LP3","j":77,"t":63.3},{"p":"LP3","j":81,"t":63.9},{"p":"LP3","j":5,"t":64.5},{"p":"LP3","j":17,"t":64.4},{"p":"LP3","j":68,"t":64.5},{"p":"LP3","j":11,"t":65.7},{"p":"LP3","j":5,"t":66.5},{"p":"LP3","j":56,"t":65.7},{"p":"LP3","j":77,"t":66.0},{"p":"LP3","j":89,"t":65.7},{"p":"LP3","j":15,"t":67.4},{"p":"LP3","j":54,"t":67.1},{"p":"LP3","j":83,"t":67.4},{"p":"LP3","j":94,"t":66.5},{"p":"LP3","j":3,"t":68.7},{"p":"LP3","j":21,"t":68.7},{"p":"LP3","j":34,"t":69.3},{"p":"LP3","j":44,"t":68.9},{"p":"LP3","j":66,"t":69.2},{"p":"LP3","j":77,"t":68.6},{"p":"LP3","j":89,"t":69.2},{"p":"LP3","j":42,"t":69.8},{"p":"LP3","j":54,"t":70.1},
{"p":"LP3","j":18,"t":70.9},{"p":"LP3","j":40,"t":70.6},{"p":"LP3","j":50,"t":70.9},{"p":"LP3","j":58,"t":70.6},{"p":"LP3","j":68,"t":70.4},{"p":"LP3","j":85,"t":70.4},{"p":"LP3","j":93,"t":70.9},{"p":"LP3","j":34,"t":72.7},{"p":"LP3","j":50,"t":72.1},{"p":"LP3","j":66,"t":72.4},{"p":"LP3","j":79,"t":72.0},{"p":"LP3","j":91,"t":72.4},{"p":"LP3","j":15,"t":73.9},{"p":"LP3","j":40,"t":74.2},{"p":"LP3","j":58,"t":73.9},{"p":"LP3","j":70,"t":73.6},{"p":"LP3","j":87,"t":73.3},{"p":"LP3","j":13,"t":75.9},{"p":"LP3","j":25,"t":76.5},{"p":"LP3","j":46,"t":75.3},{"p":"LP3","j":60,"t":75.6},{"p":"LP3","j":77,"t":75.3},{"p":"LP3","j":93,"t":75.0},{"p":"LP3","j":1,"t":76.7},{"p":"LP3","j":38,"t":77.1},{"p":"LP3","j":54,"t":77.1},{"p":"LP3","j":70,"t":76.8},{"p":"LP3","j":87,"t":76.5},{"p":"LP3","j":5,"t":78.7},{"p":"LP3","j":15,"t":79.1},{"p":"LP3","j":27,"t":79.1},{"p":"LP3","j":50,"t":78.2},{"p":"LP3","j":68,"t":78.0},{"p":"LP3","j":81,"t":79.1},{"p":"LP3","j":93,"t":78.5},{"p":"LP3","j":15,"t":80.3},
{"p":"LP3","j":40,"t":79.8},{"p":"LP3","j":70,"t":79.7},{"p":"LP3","j":79,"t":80.3},{"p":"LP3","j":52,"t":81.5},{"p":"LP3","j":62,"t":81.8},{"p":"LP3","j":75,"t":81.5},{"p":"LP3","j":87,"t":82.3},{"p":"LP3","j":15,"t":82.0},{"p":"LP3","j":38,"t":82.6},{"p":"LP3","j":40,"t":83.5},{"p":"LP3","j":54,"t":83.8},{"p":"LP3","j":68,"t":84.1},{"p":"LP3","j":91,"t":83.2},{"p":"LP3","j":32,"t":85.0},{"p":"LP3","j":83,"t":85.0},{"p":"LP3","j":97,"t":85.3},{"p":"LP3","j":66,"t":85.8},{"p":"LP3","j":27,"t":87.0},{"p":"LP3","j":41,"t":87.6},{"p":"LP3","j":49,"t":87.6},{"p":"LP3","j":90,"t":87.0},{"p":"LP3","j":95,"t":87.9},{"p":"LP3","j":56,"t":88.8},{"p":"LP3","j":62,"t":89.1},{"p":"LP3","j":85,"t":89.1},{"p":"LP3","j":68,"t":90.5},{"p":"LP3","j":25,"t":91.7},{"p":"LP3","j":41,"t":94.0},{"p":"LP3","j":18,"t":95.5},{"p":"LP3","j":62,"t":94.6},{"p":"LP3","j":68,"t":107.9},
{"p":"LP3","j":45,"t":63.0},{"p":"LP3","j":62,"t":62.8},{"p":"LP3","j":25,"t":66.2},{"p":"LP3","j":40,"t":66.6},{"p":"LP3","j":67,"t":67.0},{"p":"LP3","j":10,"t":70.3},{"p":"LP3","j":28,"t":71.6},{"p":"LP3","j":74,"t":71.3},{"p":"LP3","j":97,"t":72.8},{"p":"LP3","j":5,"t":73.2},{"p":"LP3","j":27,"t":74.4},{"p":"LP3","j":49,"t":73.7},{"p":"LP3","j":82,"t":74.8},{"p":"LP3","j":65,"t":75.9},{"p":"LP3","j":35,"t":76.0},{"p":"LP3","j":96,"t":76.9},{"p":"LP3","j":60,"t":79.2},{"p":"LP3","j":23,"t":81.2},{"p":"LP3","j":90,"t":80.9},{"p":"LP3","j":78,"t":84.2},{"p":"LP3","j":48,"t":85.6},
{"p":"LP1","j":4,"t":56.2},{"p":"LP1","j":4,"t":57.2},{"p":"LP1","j":55,"t":58.0},{"p":"LP1","j":70,"t":58.4},{"p":"LP1","j":33,"t":59.2},{"p":"LP1","j":38,"t":59.9},{"p":"LP1","j":4,"t":59.2},
{"p":"LP1","j":2,"t":60.7},{"p":"LP1","j":16,"t":61.3},{"p":"LP1","j":27,"t":62.2},{"p":"LP1","j":43,"t":60.7},{"p":"LP1","j":60,"t":61.3},{"p":"LP1","j":76,"t":61.0},{"p":"LP1","j":91,"t":60.4},{"p":"LP1","j":4,"t":62.7},{"p":"LP1","j":19,"t":62.7},{"p":"LP1","j":35,"t":62.2},{"p":"LP1","j":51,"t":62.2},{"p":"LP1","j":68,"t":62.7},{"p":"LP1","j":84,"t":62.2},{"p":"LP1","j":97,"t":63.0},{"p":"LP1","j":8,"t":64.2},{"p":"LP1","j":27,"t":64.5},{"p":"LP1","j":43,"t":64.2},{"p":"LP1","j":60,"t":64.2},{"p":"LP1","j":72,"t":64.5},{"p":"LP1","j":93,"t":63.9},{"p":"LP1","j":1,"t":66.0},{"p":"LP1","j":14,"t":65.7},{"p":"LP1","j":31,"t":65.4},{"p":"LP1","j":45,"t":66.0},{"p":"LP1","j":66,"t":65.4},{"p":"LP1","j":80,"t":65.7},{"p":"LP1","j":97,"t":66.0},{"p":"LP1","j":4,"t":67.7},{"p":"LP1","j":21,"t":67.4},{"p":"LP1","j":35,"t":67.7},{"p":"LP1","j":53,"t":67.1},{"p":"LP1","j":68,"t":67.1},{"p":"LP1","j":84,"t":68.0},{"p":"LP1","j":19,"t":69.2},{"p":"LP1","j":35,"t":68.9},{"p":"LP1","j":51,"t":68.6},{"p":"LP1","j":84,"t":69.2},{"p":"LP1","j":97,"t":68.6},
{"p":"LP1","j":6,"t":71.2},{"p":"LP1","j":27,"t":70.9},{"p":"LP1","j":43,"t":70.6},{"p":"LP1","j":64,"t":70.9},{"p":"LP1","j":76,"t":70.9},{"p":"LP1","j":91,"t":72.1},{"p":"LP1","j":14,"t":72.4},{"p":"LP1","j":35,"t":72.7},{"p":"LP1","j":51,"t":72.6},{"p":"LP1","j":68,"t":73.6},{"p":"LP1","j":19,"t":73.9},{"p":"LP1","j":39,"t":73.6},{"p":"LP1","j":60,"t":74.4},{"p":"LP1","j":78,"t":73.3},{"p":"LP1","j":2,"t":75.3},{"p":"LP1","j":29,"t":76.5},{"p":"LP1","j":43,"t":75.6},{"p":"LP1","j":60,"t":75.9},{"p":"LP1","j":86,"t":75.3},{"p":"LP1","j":93,"t":77.3},{"p":"LP1","j":8,"t":78.5},{"p":"LP1","j":21,"t":78.5},{"p":"LP1","j":33,"t":78.7},{"p":"LP1","j":43,"t":79.1},{"p":"LP1","j":58,"t":77.7},{"p":"LP1","j":68,"t":77.1},{"p":"LP1","j":80,"t":78.8},{"p":"LP1","j":68,"t":79.1},
{"p":"LP1","j":59,"t":80.4},{"p":"LP1","j":37,"t":81.5},{"p":"LP1","j":43,"t":82.3},{"p":"LP1","j":58,"t":81.8},{"p":"LP1","j":58,"t":82.9},{"p":"LP1","j":3,"t":82.6},{"p":"LP1","j":78,"t":83.3},{"p":"LP1","j":63,"t":86.0},{"p":"LP1","j":75,"t":86.0},{"p":"LP1","j":91,"t":86.8},{"p":"LP1","j":47,"t":89.5},{"p":"LP1","j":77,"t":90.1},{"p":"LP1","j":93,"t":89.5},{"p":"LP1","j":38,"t":97.0},{"p":"LP1","j":60,"t":100.1},{"p":"LP1","j":50,"t":107.3},
{"p":"LP1","j":10,"t":60.9},{"p":"LP1","j":35,"t":61.1},{"p":"LP1","j":68,"t":60.6},{"p":"LP1","j":85,"t":61.3},{"p":"LP1","j":12,"t":63.8},{"p":"LP1","j":52,"t":64.7},{"p":"LP1","j":82,"t":64.0},{"p":"LP1","j":23,"t":66.4},{"p":"LP1","j":58,"t":66.2},{"p":"LP1","j":90,"t":66.9},{"p":"LP1","j":11,"t":68.8},{"p":"LP1","j":44,"t":68.6},{"p":"LP1","j":75,"t":69.4},{"p":"LP1","j":90,"t":70.6},{"p":"LP1","j":20,"t":71.3},{"p":"LP1","j":58,"t":71.9},{"p":"LP1","j":83,"t":72.0},{"p":"LP1","j":5,"t":73.1},{"p":"LP1","j":50,"t":74.6},{"p":"LP1","j":74,"t":75.1},{"p":"LP1","j":14,"t":76.4},{"p":"LP1","j":53,"t":76.7},{"p":"LP1","j":88,"t":79.0},
{"p":"LP1","j":37,"t":58.9,"k":1}
]
},
"layer":[
{
"layer":[
{"data":{"name":"panels"},"transform":[{"filter":{"field":"p","oneOf":["LP11","LP9","LP6","LP7"]}}],
 "mark":{"type":"rect","fill":"white","strokeWidth":0,"width":82},
 "encoding":{
  "x":{"field":"p","type":"nominal","scale":{"domain":["LP11","LP9","LP6","LP7"],"range":[0,388],"paddingInner":0.196,"paddingOuter":0},"axis":{"orient":"top","title":null}},
  "y":{"datum":20,"type":"quantitative","scale":{"domain":[20,120],"reverse":true,"nice":false,"zero":false},"axis":{"orient":"left","values":[20,40,60,80,100,120],"labelPadding":10,"title":"Modeled Temperature 14–8 Ma (°C)","titleX":-53,"titleBaseline":"alphabetic"}},
  "y2":{"datum":120}}},
{"data":{"name":"panels"},"transform":[{"filter":{"field":"p","oneOf":["LP11","LP9","LP6","LP7"]}},{"flatten":["g"]}],
 "mark":{"type":"rect","filled":false,"stroke":"#222","strokeWidth":1.1,"width":82},
 "encoding":{"x":{"field":"p","type":"nominal","axis":{"orient":"top","title":null}},"y":{"field":"g","type":"quantitative","axis":{"orient":"left","values":[20,40,60,80,100,120],"labelPadding":10,"title":"Modeled Temperature 14–8 Ma (°C)","titleX":-53,"titleBaseline":"alphabetic"}},"y2":{"field":"g"}}},
{"data":{"name":"pts"},"transform":[{"filter":{"field":"p","oneOf":["LP11","LP9","LP6","LP7"]}},{"filter":"!datum.k"}],
 "mark":{"type":"point","shape":"square","filled":true,"size":34,"color":"#999999","opacity":1},
 "encoding":{"x":{"field":"p","type":"nominal","axis":{"orient":"top","title":null}},"xOffset":{"field":"j","type":"quantitative","scale":{"domain":[0,100],"range":[0,82],"nice":false,"zero":false}},"y":{"field":"t","type":"quantitative","axis":{"orient":"left","values":[20,40,60,80,100,120],"labelPadding":10,"title":"Modeled Temperature 14–8 Ma (°C)","titleX":-53,"titleBaseline":"alphabetic"}}}},
{"data":{"name":"pts"},"transform":[{"filter":{"field":"p","oneOf":["LP11","LP9","LP6","LP7"]}},{"filter":"datum.k"}],
 "mark":{"type":"point","shape":"square","filled":true,"size":34,"color":"#111111","opacity":1},
 "encoding":{"x":{"field":"p","type":"nominal","axis":{"orient":"top","title":null}},"xOffset":{"field":"j","type":"quantitative","scale":{"domain":[0,100],"range":[0,82],"nice":false,"zero":false}},"y":{"field":"t","type":"quantitative","axis":{"orient":"left","values":[20,40,60,80,100,120],"labelPadding":10,"title":"Modeled Temperature 14–8 Ma (°C)","titleX":-53,"titleBaseline":"alphabetic"}}}},
{"data":{"name":"panels"},"transform":[{"filter":{"field":"p","oneOf":["LP11","LP9","LP6","LP7"]}}],
 "mark":{"type":"rect","filled":false,"stroke":"#1c1c1c","strokeWidth":2.5,"width":82},
 "encoding":{"x":{"field":"p","type":"nominal","axis":{"orient":"top","title":null}},"y":{"datum":20,"type":"quantitative","axis":{"orient":"left","values":[20,40,60,80,100,120],"labelPadding":10,"title":"Modeled Temperature 14–8 Ma (°C)","titleX":-53,"titleBaseline":"alphabetic"}},"y2":{"datum":120}}},
{"data":{"name":"panels"},"transform":[{"filter":{"field":"p","oneOf":["LP11","LP9","LP6","LP7"]}}],
 "mark":{"type":"text","fontSize":21,"baseline":"middle","align":"center","color":"#111","font":"Liberation Sans"},
 "encoding":{"x":{"field":"p","type":"nominal","axis":{"orient":"top","title":null}},"y":{"datum":87.1,"type":"quantitative","axis":{"orient":"left","values":[20,40,60,80,100,120],"labelPadding":10,"title":"Modeled Temperature 14–8 Ma (°C)","titleX":-53,"titleBaseline":"alphabetic"}},"text":{"field":"v"}}},
{"data":{"values":[{}]},
 "mark":{"type":"point","shape":"M-1,-0.141L1,-0.141L1,0.141L-1,0.141Z","size":58081,"fill":"white","stroke":"#111","strokeWidth":2,"filled":true,"opacity":1,"fillOpacity":1,"strokeOpacity":1},
 "encoding":{"x":{"datum":"LP9","type":"nominal","axis":{"orient":"top","title":null}},"xOffset":{"datum":111.6,"type":"quantitative"},"y":{"datum":110.35,"type":"quantitative","axis":{"orient":"left","values":[20,40,60,80,100,120],"labelPadding":10,"title":"Modeled Temperature 14–8 Ma (°C)","titleX":-53,"titleBaseline":"alphabetic"}}}},
{"data":{"values":[{}]},
 "mark":{"type":"text","fontSize":22,"baseline":"middle","align":"center","color":"#111","font":"Liberation Sans","text":"West La Panza Range"},
 "encoding":{"x":{"datum":"LP9","type":"nominal","axis":{"orient":"top","title":null}},"xOffset":{"datum":111.6,"type":"quantitative"},"y":{"datum":110.35,"type":"quantitative","axis":{"orient":"left","values":[20,40,60,80,100,120],"labelPadding":10,"title":"Modeled Temperature 14–8 Ma (°C)","titleX":-53,"titleBaseline":"alphabetic"}}}}
]
},
{
"layer":[
{"data":{"name":"panels"},"transform":[{"filter":{"field":"p","oneOf":["LP5","LP4","LP2","LP3","LP1"]}}],
 "mark":{"type":"rect","fill":"white","strokeWidth":0,"width":82},
 "encoding":{
  "x":{"field":"p","type":"nominal","scale":{"domain":["LP5","LP4","LP2","LP3","LP1"],"range":[448,938],"paddingInner":0.196,"paddingOuter":0},"axis":{"orient":"top","title":null}},
  "y":{"datum":20,"type":"quantitative","scale":{"domain":[20,120],"reverse":true,"nice":false,"zero":false},"axis":{"orient":"right","values":[20,40,60,80,100,120],"labelPadding":8,"title":null}},
  "y2":{"datum":120}}},
{"data":{"name":"panels"},"transform":[{"filter":{"field":"p","oneOf":["LP5","LP4","LP2","LP3","LP1"]}},{"flatten":["g"]}],
 "mark":{"type":"rect","filled":false,"stroke":"#222","strokeWidth":1.1,"width":82},
 "encoding":{"x":{"field":"p","type":"nominal","axis":{"orient":"top","title":null}},"y":{"field":"g","type":"quantitative","axis":{"orient":"right","values":[20,40,60,80,100,120],"labelPadding":8,"title":null}},"y2":{"field":"g"}}},
{"data":{"name":"pts"},"transform":[{"filter":{"field":"p","oneOf":["LP5","LP4","LP2","LP3","LP1"]}},{"filter":"!datum.k"}],
 "mark":{"type":"point","shape":"square","filled":true,"size":34,"color":"#999999","opacity":1},
 "encoding":{"x":{"field":"p","type":"nominal","axis":{"orient":"top","title":null}},"xOffset":{"field":"j","type":"quantitative","scale":{"domain":[0,100],"range":[0,82],"nice":false,"zero":false}},"y":{"field":"t","type":"quantitative","axis":{"orient":"right","values":[20,40,60,80,100,120],"labelPadding":8,"title":null}}}},
{"data":{"name":"pts"},"transform":[{"filter":{"field":"p","oneOf":["LP5","LP4","LP2","LP3","LP1"]}},{"filter":"datum.k"}],
 "mark":{"type":"point","shape":"square","filled":true,"size":34,"color":"#111111","opacity":1},
 "encoding":{"x":{"field":"p","type":"nominal","axis":{"orient":"top","title":null}},"xOffset":{"field":"j","type":"quantitative","scale":{"domain":[0,100],"range":[0,82],"nice":false,"zero":false}},"y":{"field":"t","type":"quantitative","axis":{"orient":"right","values":[20,40,60,80,100,120],"labelPadding":8,"title":null}}}},
{"data":{"name":"panels"},"transform":[{"filter":{"field":"p","oneOf":["LP5","LP4","LP2","LP3","LP1"]}}],
 "mark":{"type":"rect","filled":false,"stroke":"#1c1c1c","strokeWidth":2.5,"width":82},
 "encoding":{"x":{"field":"p","type":"nominal","axis":{"orient":"top","title":null}},"y":{"datum":20,"type":"quantitative","axis":{"orient":"right","values":[20,40,60,80,100,120],"labelPadding":8,"title":null}},"y2":{"datum":120}}},
{"data":{"name":"panels"},"transform":[{"filter":{"field":"p","oneOf":["LP5","LP4","LP2","LP3","LP1"]}}],
 "mark":{"type":"text","fontSize":21,"baseline":"middle","align":"center","color":"#111","font":"Liberation Sans"},
 "encoding":{"x":{"field":"p","type":"nominal","axis":{"orient":"top","title":null}},"y":{"datum":47,"type":"quantitative","axis":{"orient":"right","values":[20,40,60,80,100,120],"labelPadding":8,"title":null}},"text":{"field":"v"}}},
{"data":{"values":[{}]},
 "mark":{"type":"rule","color":"#111","strokeWidth":2.5},
 "encoding":{"x":{"datum":"LP5","type":"nominal","axis":{"orient":"top","title":null}},"xOffset":{"datum":-31,"type":"quantitative"},"y":{"datum":20,"type":"quantitative","axis":{"orient":"right","values":[20,40,60,80,100,120],"labelPadding":8,"title":null}},"y2":{"datum":120}}},
{"data":{"name":"thrusts"},
 "mark":{"type":"point","shape":"M0,-1L1.78,0L0,1Z","size":324,"filled":true,"color":"#111","opacity":1},
 "encoding":{"x":{"datum":"LP5","type":"nominal","axis":{"orient":"top","title":null}},"xOffset":{"datum":-31,"type":"quantitative"},"y":{"field":"t","type":"quantitative","axis":{"orient":"right","values":[20,40,60,80,100,120],"labelPadding":8,"title":null}}}},
{"data":{"values":[{}]},
 "mark":{"type":"text","fontSize":21,"angle":270,"baseline":"alphabetic","align":"center","color":"#111","font":"Liberation Sans","text":"La Panza Fault"},
 "encoding":{"x":{"datum":"LP5","type":"nominal","axis":{"orient":"top","title":null}},"xOffset":{"datum":-38,"type":"quantitative"},"y":{"datum":68.6,"type":"quantitative","axis":{"orient":"right","values":[20,40,60,80,100,120],"labelPadding":8,"title":null}}}},
{"data":{"values":[{}]},
 "mark":{"type":"point","shape":"M-1,-0.146L1,-0.146L1,0.146L-1,0.146Z","size":57600,"fill":"white","stroke":"#111","strokeWidth":2,"filled":true,"opacity":1,"fillOpacity":1,"strokeOpacity":1},
 "encoding":{"x":{"datum":"LP2","type":"nominal","axis":{"orient":"top","title":null}},"xOffset":{"datum":51.2,"type":"quantitative"},"y":{"datum":29.9,"type":"quantitative","axis":{"orient":"right","values":[20,40,60,80,100,120],"labelPadding":8,"title":null}}}},
{"data":{"values":[{}]},
 "mark":{"type":"text","fontSize":22,"baseline":"middle","align":"center","color":"#111","font":"Liberation Sans","text":"East La Panza Range"},
 "encoding":{"x":{"datum":"LP2","type":"nominal","axis":{"orient":"top","title":null}},"xOffset":{"datum":51.2,"type":"quantitative"},"y":{"datum":29.9,"type":"quantitative","axis":{"orient":"right","values":[20,40,60,80,100,120],"labelPadding":8,"title":null}}}}
]
}
],
"resolve":{"scale":{"x":"independent","y":"independent"},"axis":{"x":"independent","y":"independent"}}
}
